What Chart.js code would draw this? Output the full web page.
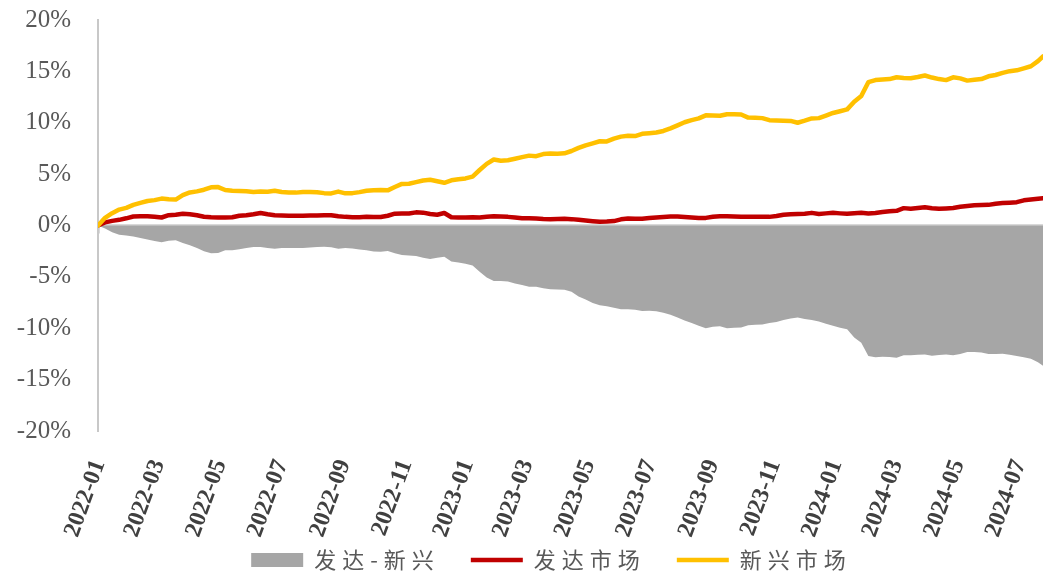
<!DOCTYPE html>
<html><head><meta charset="utf-8">
<script src="https://cdn.jsdelivr.net/npm/chart.js@4.4.1/dist/chart.umd.min.js"></script>
<style>html,body{margin:0;padding:0;background:#fff}#wrap{width:1043px;height:574px;position:relative}</style>
</head><body><div id="wrap"><canvas id="c"></canvas></div>
<script>
const seriesNames = ['发达-新兴', '发达市场', '新兴市场'];
const tickLabels = ['2022-01','2022-03','2022-05','2022-07','2022-09','2022-11','2023-01','2023-03','2023-05','2023-07','2023-09','2023-11','2024-01','2024-03','2024-05','2024-07'];
const yTicks = [-20, -15, -10, -5, 0, 5, 10, 15, 20];
const firstDate = '2021-12-31';
const weeklyCount = 134;
const lastDate = '2024-07-24';

const emerging = [
0, 0.75, 1.2, 1.55, 1.72, 2.0, 2.2, 2.38, 2.47, 2.62,
2.55, 2.52, 2.95, 3.22, 3.32, 3.48, 3.72, 3.74, 3.45, 3.38,
3.36, 3.34, 3.26, 3.3, 3.28, 3.38, 3.26, 3.22, 3.2, 3.27,
3.25, 3.24, 3.15, 3.12, 3.3, 3.13, 3.15, 3.25, 3.38, 3.44,
3.46, 3.42, 3.75, 4.05, 4.06, 4.22, 4.38, 4.45, 4.3, 4.16,
4.4, 4.5, 4.58, 4.76, 5.4, 6.0, 6.42, 6.3, 6.35, 6.5,
6.65, 6.8, 6.75, 6.95, 7.0, 6.98, 7.02, 7.25, 7.55, 7.8,
8.0, 8.2, 8.18, 8.45, 8.65, 8.73, 8.7, 8.92, 8.98, 9.05,
9.2, 9.45, 9.75, 10.05, 10.25, 10.42, 10.72, 10.7, 10.68, 10.83,
10.82, 10.8, 10.5, 10.48, 10.45, 10.25, 10.22, 10.2, 10.18, 10.0,
10.2, 10.42, 10.45, 10.7, 10.95, 11.12, 11.3, 12.05, 12.6, 13.95,
14.15, 14.2, 14.25, 14.43, 14.36, 14.33, 14.45, 14.6, 14.4, 14.25,
14.15, 14.42, 14.32, 14.1, 14.18, 14.25, 14.52, 14.65, 14.85, 15.02,
15.1, 15.3, 15.5, 16.0, 16.45
];
const developed = [
0, 0.3, 0.45, 0.55, 0.7, 0.88, 0.9, 0.9, 0.85, 0.78,
1.0, 1.05, 1.15, 1.1, 1.0, 0.85, 0.8, 0.78, 0.78, 0.8,
0.95, 1.0, 1.1, 1.22, 1.1, 1.0, 0.98, 0.95, 0.94, 0.96,
0.97, 0.97, 1.0, 1.0, 0.9, 0.84, 0.8, 0.8, 0.84, 0.82,
0.82, 0.95, 1.15, 1.17, 1.17, 1.28, 1.25, 1.12, 1.05, 1.22,
0.8, 0.78, 0.78, 0.8, 0.78, 0.85, 0.91, 0.88, 0.84, 0.78,
0.71, 0.7, 0.68, 0.64, 0.62, 0.64, 0.66, 0.62, 0.55, 0.48,
0.42, 0.36, 0.38, 0.43, 0.6, 0.68, 0.66, 0.65, 0.72, 0.78,
0.82, 0.87, 0.88, 0.83, 0.78, 0.72, 0.74, 0.85, 0.91, 0.9,
0.88, 0.86, 0.84, 0.84, 0.84, 0.84, 0.92, 1.05, 1.1, 1.12,
1.15, 1.23, 1.12, 1.18, 1.23, 1.18, 1.14, 1.2, 1.23, 1.17,
1.22, 1.32, 1.38, 1.43, 1.69, 1.62, 1.7, 1.78, 1.68, 1.62,
1.66, 1.7, 1.82, 1.9, 1.97, 2.0, 2.01, 2.12, 2.18, 2.22,
2.27, 2.45, 2.52, 2.6, 2.66
];
const spread = [
0, -0.3, -0.65, -0.9, -0.98, -1.06, -1.22, -1.36, -1.5, -1.62,
-1.48, -1.44, -1.7, -1.92, -2.2, -2.5, -2.7, -2.68, -2.42, -2.4,
-2.3, -2.2, -2.1, -2.1, -2.2, -2.27, -2.2, -2.18, -2.2, -2.2,
-2.15, -2.1, -2.08, -2.12, -2.27, -2.2, -2.25, -2.33, -2.42, -2.54,
-2.55, -2.48, -2.7, -2.88, -2.92, -2.96, -3.15, -3.25, -3.15, -3.05,
-3.5, -3.6, -3.72, -3.9, -4.5, -5.05, -5.4, -5.4, -5.45, -5.65,
-5.8, -5.95, -5.97, -6.1, -6.2, -6.23, -6.25, -6.45, -6.9, -7.2,
-7.55, -7.76, -7.86, -8.0, -8.15, -8.15, -8.2, -8.32, -8.3, -8.35,
-8.48, -8.68, -8.95, -9.25, -9.5, -9.75, -10.0, -9.85, -9.8, -10.0,
-9.95, -9.92, -9.7, -9.66, -9.64, -9.5, -9.38, -9.2, -9.05, -8.95,
-9.1, -9.2, -9.35, -9.55, -9.75, -9.95, -10.1, -10.9, -11.4, -12.7,
-12.82, -12.78, -12.8, -12.88, -12.62, -12.62, -12.58, -12.55, -12.68, -12.6,
-12.55, -12.62, -12.5, -12.3, -12.3, -12.35, -12.5, -12.5, -12.47, -12.58,
-12.7, -12.82, -12.98, -13.3, -13.64
];

// ---- date helpers (categories) ----
const DAY = 86400000;
const EPOCH = Date.UTC(2022, 0, 1);
function toUTC(s) { const p = s.split('-').map(Number); return Date.UTC(p[0], p[1] - 1, p[2] || 1); }
function fmt(t) { const d = new Date(t); return d.getUTCFullYear() + '-' + String(d.getUTCMonth() + 1).padStart(2, '0') + '-' + String(d.getUTCDate()).padStart(2, '0'); }
const categories = [];
for (let k = 0; k < weeklyCount; k++) categories.push(fmt(toUTC(firstDate) + k * 7 * DAY));
categories.push(lastDate);
const dayOf = s => Math.round((toUTC(s) - EPOCH) / DAY);
const xs = categories.map(dayOf);
const tickDays = tickLabels.map(dayOf);
const tickText = {}; tickLabels.forEach((l, i) => tickText[tickDays[i]] = l);
const pts = arr => arr.map((v, i) => ({ x: xs[i], y: v }));

const SERIF = '"Liberation Serif", "Times New Roman", serif';
const setTicks = s => { s.ticks = tickDays.map(v => ({ value: v })); };
const noClip = s => { s._computeLabelArea = () => null; };

// legend text with letter spacing like the original
const legendSpacing = {
  id: 'legendSpacing',
  beforeLayout(chart) {
    const lg = chart.legend;
    if (!lg || lg.__wrapped) return;
    lg.__wrapped = true;
    ['update', 'draw'].forEach(name => {
      const orig = lg[name];
      lg[name] = function (...a) {
        const c = this.ctx; const prev = c.letterSpacing;
        c.letterSpacing = '6px';
        try { return orig.apply(this, a); } finally { c.letterSpacing = prev || '0px'; }
      };
    });
  }
};

new Chart(document.getElementById('c'), {
  type: 'line',
  plugins: [legendSpacing],
  data: {
    datasets: [
      { label: seriesNames[0], data: pts(spread), fill: 'origin', backgroundColor: '#A6A6A6', borderColor: '#A6A6A6', borderWidth: 0, pointRadius: 0, pointStyle: 'rect', order: 3 },
      { label: seriesNames[1], data: pts(developed), fill: false, borderColor: '#C00000', backgroundColor: '#C00000', borderWidth: 4.5, pointRadius: 0, pointStyle: 'line', borderJoinStyle: 'round', borderCapStyle: 'round', order: 2 },
      { label: seriesNames[2], data: pts(emerging), fill: false, borderColor: '#FFC000', backgroundColor: '#FFC000', borderWidth: 4.5, pointRadius: 0, pointStyle: 'line', borderJoinStyle: 'round', borderCapStyle: 'round', order: 1 }
    ]
  },
  options: {
    responsive: true, maintainAspectRatio: false, animation: false, devicePixelRatio: 1,
    layout: { padding: { top: 20, right: 0, left: 60, bottom: -7 } },
    plugins: {
      tooltip: { enabled: false },
      legend: {
        position: 'bottom',
        labels: {
          sort: (a, b) => a.datasetIndex - b.datasetIndex,
          usePointStyle: true, pointStyleWidth: 52, boxHeight: 14, padding: 31,
          color: '#595959',
          font: { family: '"Noto Sans CJK SC", sans-serif', size: 22 }
        }
      }
    },
    scales: {
      x: {
        type: 'linear', position: 'bottom', min: xs[0], max: xs[xs.length - 1],
        afterBuildTicks: setTicks,
        afterFit: s => { s.height = 87; s.paddingLeft = 0; s.paddingRight = 0; noClip(s); },
        grid: { display: false, drawTicks: false },
        border: { display: false },
        ticks: {
          autoSkip: false, minRotation: 70, maxRotation: 70, padding: 25,
          color: '#404040', font: { family: SERIF, size: 24, weight: 'bold' },
          callback: v => tickText[v] || ''
        }
      },
      x0: {
        type: 'linear', position: { y: 0 }, min: xs[0], max: xs[xs.length - 1],
        afterBuildTicks: setTicks,
        afterFit: s => { s.height = 0; s.paddingLeft = 0; s.paddingRight = 0; },
        grid: { display: true, drawOnChartArea: false, drawTicks: true, tickLength: 7, color: '#D9D9D9', lineWidth: 2 },
        border: { display: true, color: '#D9D9D9', width: 2.5 },
        ticks: { display: false }
      },
      y: {
        type: 'linear', min: -20, max: 20, position: 'left',
        afterBuildTicks: s => { s.ticks = yTicks.map(v => ({ value: v })); },
        afterFit: s => { s.width = 38; s.paddingTop = 15; s.paddingBottom = 0; noClip(s); },
        grid: { display: false, drawTicks: false },
        border: { display: true, color: '#C8C8C8', width: 2 },
        ticks: { padding: 27, color: '#595959', font: { family: SERIF, size: 25 }, callback: v => v + '%' }
      }
    }
  }
});
</script></body></html>
